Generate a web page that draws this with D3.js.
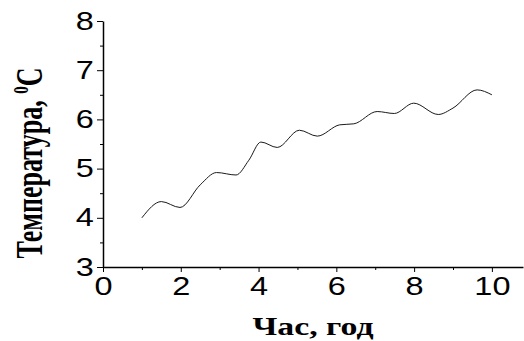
<!DOCTYPE html>
<html>
<head>
<meta charset="utf-8">
<script src="https://cdn.jsdelivr.net/npm/d3@7"></script>
<style>
  body { margin: 0; background: #fff; }
  svg { display: block; }
  .axis path, .axis line { stroke: #000; }
  .axis text { font-family: "Liberation Sans", Arial, sans-serif; font-size: 25px; fill: #000; }
  .title { font-family: "Liberation Serif", "Times New Roman", serif; font-weight: bold; fill: #000; }
</style>
</head>
<body>
<script>
// hours and temperature
const hours = [1.0, 1.5, 1.98, 2.5, 2.92, 3.42, 3.75, 4.06, 4.48, 5.05, 5.51, 6.09, 6.45, 7.05, 7.49, 7.99, 8.62, 9.0, 9.62, 10.0];
const temps = [4.00, 4.33, 4.21, 4.67, 4.92, 4.87, 5.17, 5.54, 5.43, 5.78, 5.66, 5.89, 5.91, 6.16, 6.12, 6.33, 6.10, 6.23, 6.60, 6.50];
const xTicks = [0, 2, 4, 6, 8, 10];
const yTicks = [3, 4, 5, 6, 7, 8];
const xLabel = 'Час, год';
const yLabel = 'Температура, ';

const width = 524, height = 341;
const stretch = 1.3; // the original picture is stretched sideways

const svg = d3.select('body').append('svg')
  .attr('width', width)
  .attr('height', height);

const x = d3.scaleLinear().domain([0, 10.8]).range([103, 523]);
const y = d3.scaleLinear().domain([3, 8]).range([267, 21]);

// minor ticks first
svg.append('g')
  .attr('class', 'axis')
  .attr('transform', 'translate(0,267)')
  .call(d3.axisBottom(x).tickValues(d3.range(1, 11, 2)).tickSize(3).tickFormat(''))
  .call(g => g.select('.domain').remove());

svg.append('g')
  .attr('class', 'axis')
  .attr('transform', 'translate(103,0)')
  .call(d3.axisLeft(y).tickValues(d3.range(3.5, 8, 1)).tickSize(3).tickFormat(''))
  .call(g => g.select('.domain').remove());

// main axes
svg.append('g')
  .attr('class', 'axis')
  .attr('transform', 'translate(0,267)')
  .call(d3.axisBottom(x).tickValues(xTicks).tickSize(5).tickSizeOuter(0).tickPadding(5).tickFormat(d3.format('d')))
  .call(g => g.select('.domain').attr('stroke-width', 1.5))
  .call(g => g.selectAll('.tick text').attr('transform', 'scale(' + stretch + ',1)'));

svg.append('g')
  .attr('class', 'axis')
  .attr('transform', 'translate(103,0)')
  .call(d3.axisLeft(y).tickValues(yTicks).tickSize(6).tickSizeOuter(0).tickPadding(1).tickFormat(d3.format('d')))
  .call(g => g.select('.domain').attr('stroke-width', 1.5))
  .call(g => g.selectAll('.tick text').attr('transform', 'scale(' + stretch + ',1)'));

// the curve
const series = hours.map((h, i) => ({h: h, t: temps[i]}));
const line = d3.line()
  .x(d => x(d.h))
  .y(d => y(d.t))
  .curve(d3.curveMonotoneX);

svg.append('path')
  .datum(series)
  .attr('fill', 'none')
  .attr('stroke', '#1a1a1a')
  .attr('stroke-width', 1)
  .attr('d', line);

// axis titles
svg.append('g')
  .attr('transform', 'translate(313,335) scale(' + stretch + ',1)')
  .append('text')
  .attr('class', 'title')
  .attr('text-anchor', 'middle')
  .style('font-size', '26px')
  .text(xLabel);

const yt = svg.append('g')
  .attr('transform', 'translate(42,163) scale(1.45,1) rotate(-90)')
  .append('text')
  .attr('class', 'title')
  .attr('text-anchor', 'middle')
  .style('font-size', '26px');
yt.append('tspan').text(yLabel);
yt.append('tspan').attr('dy', -10).style('font-size', '15px').text('0');
yt.append('tspan').attr('dy', 10).text('C');
</script>
</body>
</html>
